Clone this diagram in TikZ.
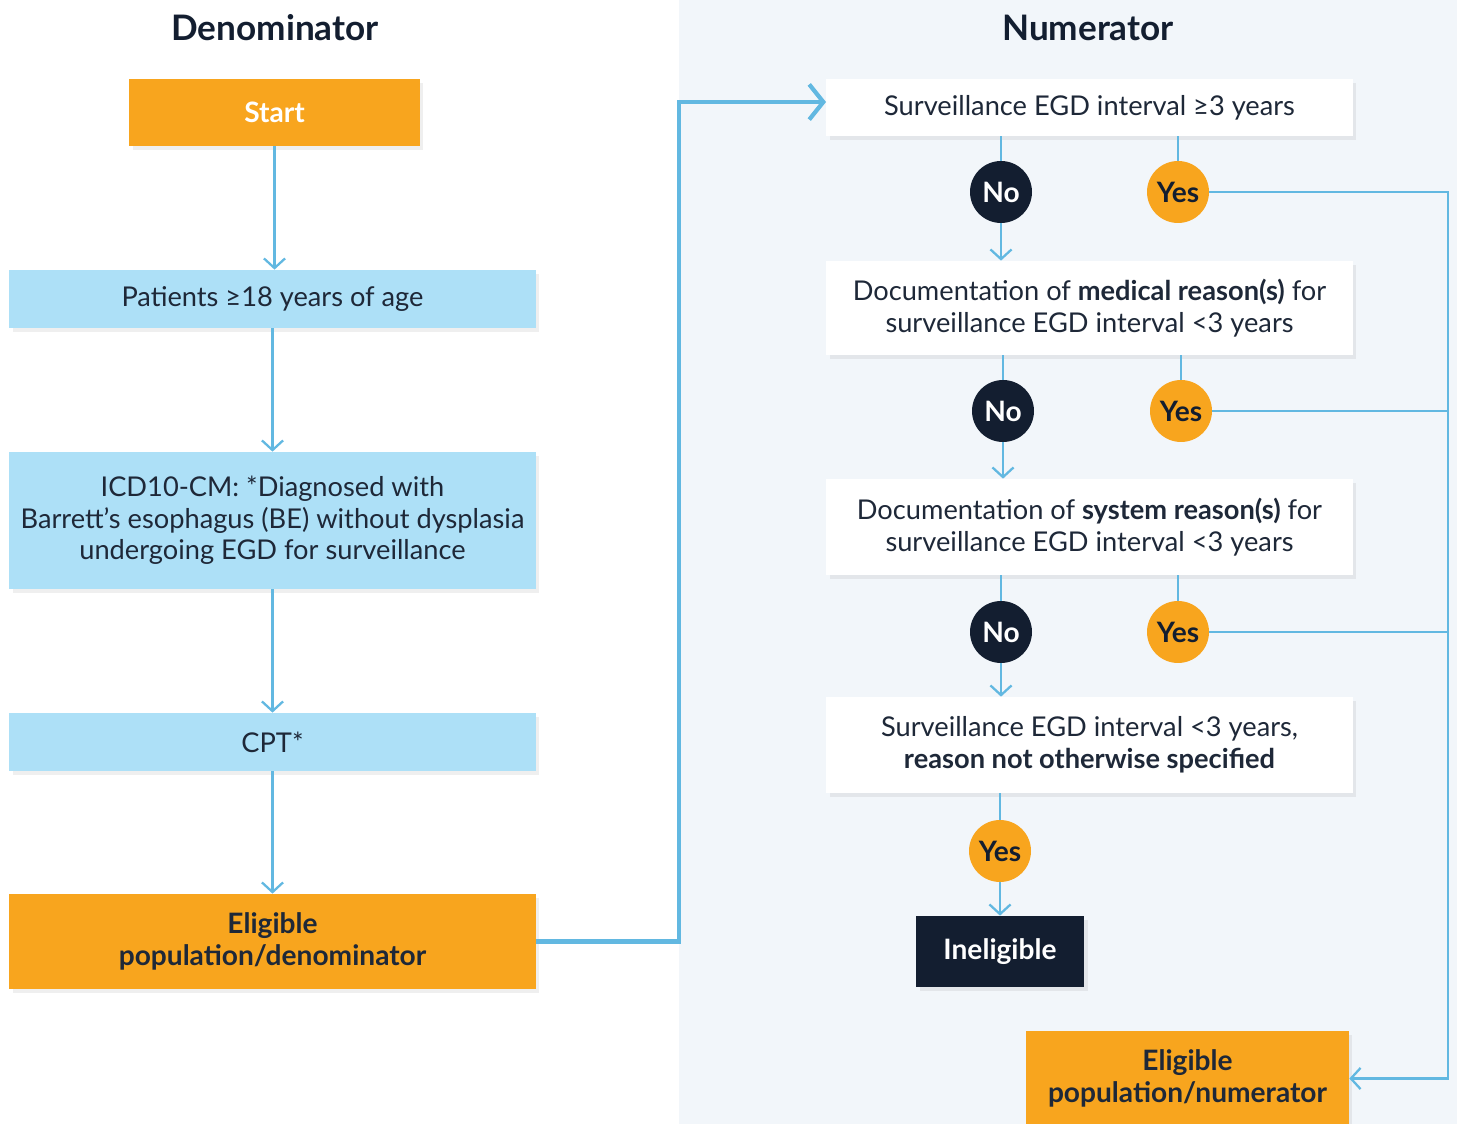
\documentclass[tikz,border=0pt]{standalone}
\usepackage{fontspec}
\setmainfont{Lato}
\usepackage{tikz}
\usetikzlibrary{positioning,arrows.meta,shadows}
\definecolor{navy}{HTML}{131E30}
\definecolor{ink}{HTML}{1E2838}
\definecolor{amber}{HTML}{F8A51E}
\definecolor{sky}{HTML}{ADE0F7}
\definecolor{wire}{HTML}{62B8E1}
\definecolor{panel}{HTML}{F2F6FA}
\tikzset{box/.style = {rectangle,inner sep=0pt,align=center,text=ink,font=\fontsize{15.5}{18}\selectfont,
                       drop shadow={shadow xshift=2pt,shadow yshift=-2.5pt,opacity=0.13}}}
\tikzset{denbox/.style = {box,fill=sky,minimum width=10.54cm}}
\tikzset{numbox/.style = {box,fill=white,minimum width=10.54cm}}
\tikzset{goldbox/.style = {box,fill=amber,font=\fontsize{16}{18}\selectfont\bfseries}}
\tikzset{answer/.style = {circle,inner sep=0pt,minimum size=1.24cm,font=\fontsize{16}{18}\selectfont\bfseries}}
\tikzset{nocirc/.style = {answer,fill=navy,text=white}}
\tikzset{yescirc/.style = {answer,fill=amber,text=navy}}
\tikzset{flow/.style = {draw=wire,line width=1.3pt,-{Straight Barb[length=5.5pt,width=12pt]}}}
\tikzset{link/.style = {draw=wire,line width=1.3pt}}
\tikzset{heading/.style = {font=\fontsize{20}{24}\selectfont\bfseries,text=navy}}
\begin{document}
\begin{tikzpicture}[x=0.02cm,y=-0.02cm]
        \useasboundingbox (0,0) rectangle (1457,1124);
        \fill[panel] (679,0) rectangle (1457,1124);

        % denominator side
        \node [heading] (hd) at (275,28) {Denominator};
        \node [goldbox,text=white,minimum width=5.82cm,minimum height=1.34cm] (st) at (274.5,112.5) {Start};
        \node [denbox,minimum height=1.16cm] (pa) at (272.5,299) {Patients ≥18 years of age};
        \node [denbox,minimum height=2.74cm] (icd) at (272.5,520.5) {ICD10-CM: *Diagnosed with\\Barrett’s esophagus (BE) without dysplasia\\undergoing EGD for surveillance};
        \node [denbox,minimum height=1.16cm] (cpt) at (272.5,742) {CPT*};
        \node [goldbox,minimum width=10.54cm,minimum height=1.9cm] (eld) at (272.5,941.5) {Eligible\\population/denominator};

        \draw [flow] (st) -- (st |- pa.north);
        \draw [flow] (pa) -- (icd);
        \draw [flow] (icd) -- (cpt);
        \draw [flow] (cpt) -- (eld);

        % numerator side
        \node [heading] (hn) at (1088,28) {Numerator};
        \node [numbox,minimum height=1.14cm] (b1) at (1089.5,107.5) {Surveillance EGD interval ≥3 years};
        \node [numbox,minimum height=1.88cm] (b2) at (1089.5,308) {Documentation of \textbf{medical reason(s)} for\\surveillance EGD interval <3 years};
        \node [numbox,minimum height=1.92cm] (b3) at (1089.5,527) {Documentation of \textbf{system reason(s)} for\\surveillance EGD interval <3 years};
        \node [numbox,minimum height=1.92cm] (b4) at (1089.5,745) {Surveillance EGD interval <3 years,\\\textbf{reason not otherwise specified}};
        \node [box,fill=navy,text=white,font=\fontsize{16}{18}\selectfont\bfseries,minimum width=3.36cm,minimum height=1.42cm] (inel) at (1000,951.5) {Ineligible};
        \node [goldbox,minimum width=6.46cm,minimum height=1.9cm] (eln) at (1187.5,1078.5) {Eligible\\population/numerator};

        \node [nocirc] (n1) at (1001,192) {No};
        \node [yescirc] (y1) at (1178,192) {Yes};
        \node [nocirc] (n2) at (1003,411) {No};
        \node [yescirc] (y2) at (1181,411) {Yes};
        \node [nocirc] (n3) at (1001,632) {No};
        \node [yescirc] (y3) at (1178,632) {Yes};
        \node [yescirc] (y4) at (1000,851) {Yes};

        \draw [link] (n1 |- b1.south) -- (n1);
        \draw [link] (y1 |- b1.south) -- (y1);
        \draw [flow] (n1) -- (n1 |- b2.north);
        \draw [link] (n2 |- b2.south) -- (n2);
        \draw [link] (y2 |- b2.south) -- (y2);
        \draw [flow] (n2) -- (n2 |- b3.north);
        \draw [link] (n3 |- b3.south) -- (n3);
        \draw [link] (y3 |- b3.south) -- (y3);
        \draw [flow] (n3) -- (n3 |- b4.north);
        \draw [link] (y4 |- b4.south) -- (y4);
        \draw [flow] (y4) -- (y4 |- inel.north);

        % the long connectors
        \coordinate (bend) at (679,500);
        \coordinate (rail) at (1448,600);
        \coordinate (entry) at (826,102);
        \draw [draw=wire,line width=2.4pt,-{Straight Barb[length=8pt,width=20pt]}] (eld.east) -| (bend) |- (entry);
        \draw [flow] (y1) -| (rail) |- (eln.east);
        \draw [link] (y2) -- (y2 -| rail);
        \draw [link] (y3) -- (y3 -| rail);
\end{tikzpicture}
\end{document}
